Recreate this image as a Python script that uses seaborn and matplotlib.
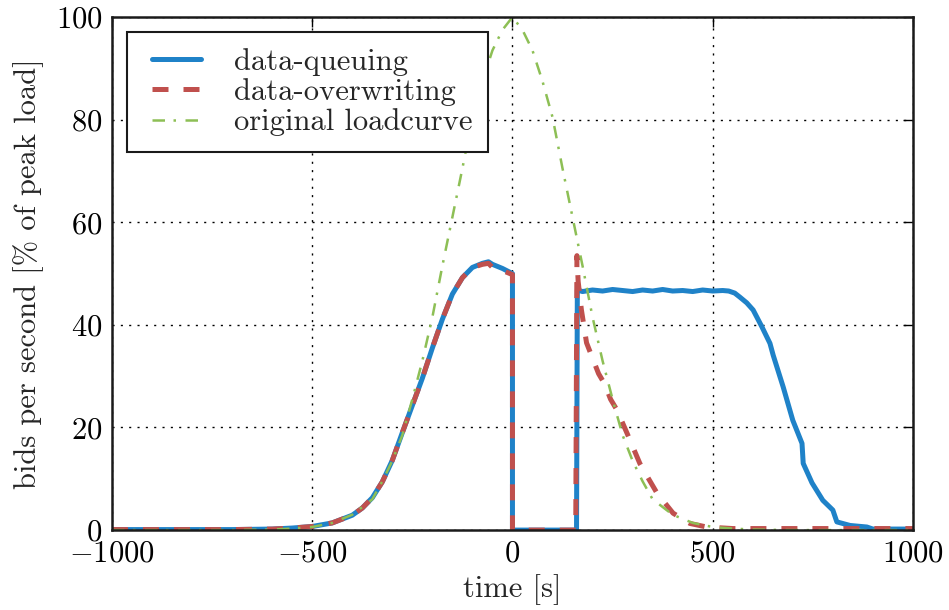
import matplotlib
matplotlib.use('Agg')
import matplotlib.pyplot as plt
import seaborn as sns

# original loadcurve
t_load = [-1000, -700, -600, -550, -500, -450, -400, -350, -325, -300, -275, -250, -225, -200,
          -175, -150, -125, -100, -75, -50, -25, 0, 25, 50, 75, 100, 125, 150, 175, 200, 225,
          250, 275, 300, 325, 350, 400, 450, 500, 550, 600, 700, 1000]
v_load = [0.0, 0.0, 0.1, 0.3, 0.6, 1.4, 3.0, 6.0, 9.5, 13.5, 18.5, 25.5, 33.0, 41.5,
          51.5, 61.0, 70.5, 80.5, 87.5, 93.5, 97.5, 100.0, 97.5, 93.5, 87.5, 80.5, 70.5, 61.0, 51.5, 41.5, 33.0,
          25.5, 18.5, 13.5, 9.5, 6.0, 3.0, 1.4, 0.6, 0.3, 0.1, 0.0, 0.0]

# data-queuing
t_queue = [-1000, -700, -600, -550, -500, -450, -400, -375, -350, -325, -300, -275, -250, -225,
           -200, -175, -150, -125, -100, -75, -60, -50, -25, 0, 0, 160, 162,
           175, 200, 225, 250, 275, 300, 325, 350, 375, 400, 425, 450, 475, 500, 525, 540,
           555, 568, 585, 601, 623, 643, 651, 676, 700, 723, 726, 748, 775, 800, 810, 843,
           885, 900, 1000]
v_queue = [0.1, 0.1, 0.2, 0.4, 0.7, 1.4, 2.9, 4.3, 6.3, 9.4, 13.6, 19.0, 24.3, 29.6,
           35.5, 41.1, 46.0, 49.2, 51.2, 52.0, 52.3, 51.8, 51.0, 50.0, 0.0, 0.0, 46.8,
           46.5, 46.8, 46.6, 46.9, 46.7, 46.5, 46.8, 46.6, 46.9, 46.6, 46.7, 46.5, 46.8, 46.6, 46.7, 46.6,
           46.2, 45.4, 44.3, 42.9, 39.6, 36.4, 34.1, 27.9, 21.4, 16.9, 13.0, 9.2, 5.8, 3.9, 1.6, 0.9,
           0.6, 0.2, 0.2]

# data-overwriting
t_over = [-1000, -700, -600, -550, -500, -450, -400, -375, -350, -325, -300, -275, -250, -225,
          -200, -175, -150, -125, -100, -75, -60, -50, -25, 0, 0, 158, 161, 164, 172, 185,
          200, 215, 230, 245, 261, 286, 318, 340, 361, 401, 443, 485, 550, 1000]
v_over = [0.1, 0.1, 0.2, 0.4, 0.7, 1.4, 2.9, 4.3, 6.3, 9.4, 13.6, 19.0, 24.3, 29.6,
          35.5, 41.1, 46.0, 49.2, 51.2, 51.8, 52.0, 51.2, 50.6, 49.8, 0.0, 0.0, 53.5, 48.5, 43.0, 36.5,
          33.5, 30.5, 28.5, 25.5, 23.4, 18.9, 13.0, 10.0, 7.2, 3.3, 1.3, 0.6, 0.3, 0.3]

sns.set_style('white')
plt.rcParams['font.family'] = ['cmr10', 'DejaVu Serif']
plt.rcParams['mathtext.fontset'] = 'cm'
plt.rcParams['axes.formatter.use_mathtext'] = True
plt.rcParams['font.size'] = 22
plt.rcParams['axes.unicode_minus'] = True

fig = plt.figure(figsize=(9.49, 6.10), dpi=100)
ax = fig.add_axes([0.118, 0.131, 0.844, 0.841])

sns.lineplot(x=t_queue, y=v_queue, sort=False, estimator=None, ax=ax,
             color='#1f82c8', lw=3.6, label='data-queuing')
sns.lineplot(x=t_over, y=v_over, sort=False, estimator=None, ax=ax,
             color='#c0504d', lw=3.6, linestyle=(0, (3.2, 3.0)), label='data-overwriting')
sns.lineplot(x=t_load, y=v_load, sort=False, estimator=None, ax=ax,
             color='#8dbf55', lw=1.8, linestyle=(0, (5, 3.4, 1, 3.8)), label='original loadcurve')

ax.set_xlim(-1000, 1000)
ax.set_ylim(0, 100)
ax.set_xticks([-1000, -500, 0, 500, 1000])
ax.set_yticks([0, 20, 40, 60, 80, 100])
ax.grid(True, color='black', linestyle=(0, (1.5, 4.5)), lw=1.0)
ax.set_axisbelow(True)
ax.tick_params(direction='in', length=7, width=1, top=True, right=True,
               labelsize=22, pad=7, colors='black')
for s in ax.spines.values():
    s.set_linewidth(1.8)
    s.set_color('#1a1a1a')

ax.set_xlabel('time [s]', fontsize=22, labelpad=5)
ax.set_ylabel('bids per second [% of peak load]', fontsize=22, labelpad=8)

leg = ax.legend(loc='upper left', fontsize=22, numpoints=2, handlelength=2.2,
                handletextpad=0.8, borderpad=0.5, labelspacing=0.08,
                borderaxespad=0.5, fancybox=False, framealpha=1)
leg.get_frame().set_edgecolor('#1a1a1a')
leg.get_frame().set_linewidth(1.5)

fig.savefig('out.png', dpi=100)
